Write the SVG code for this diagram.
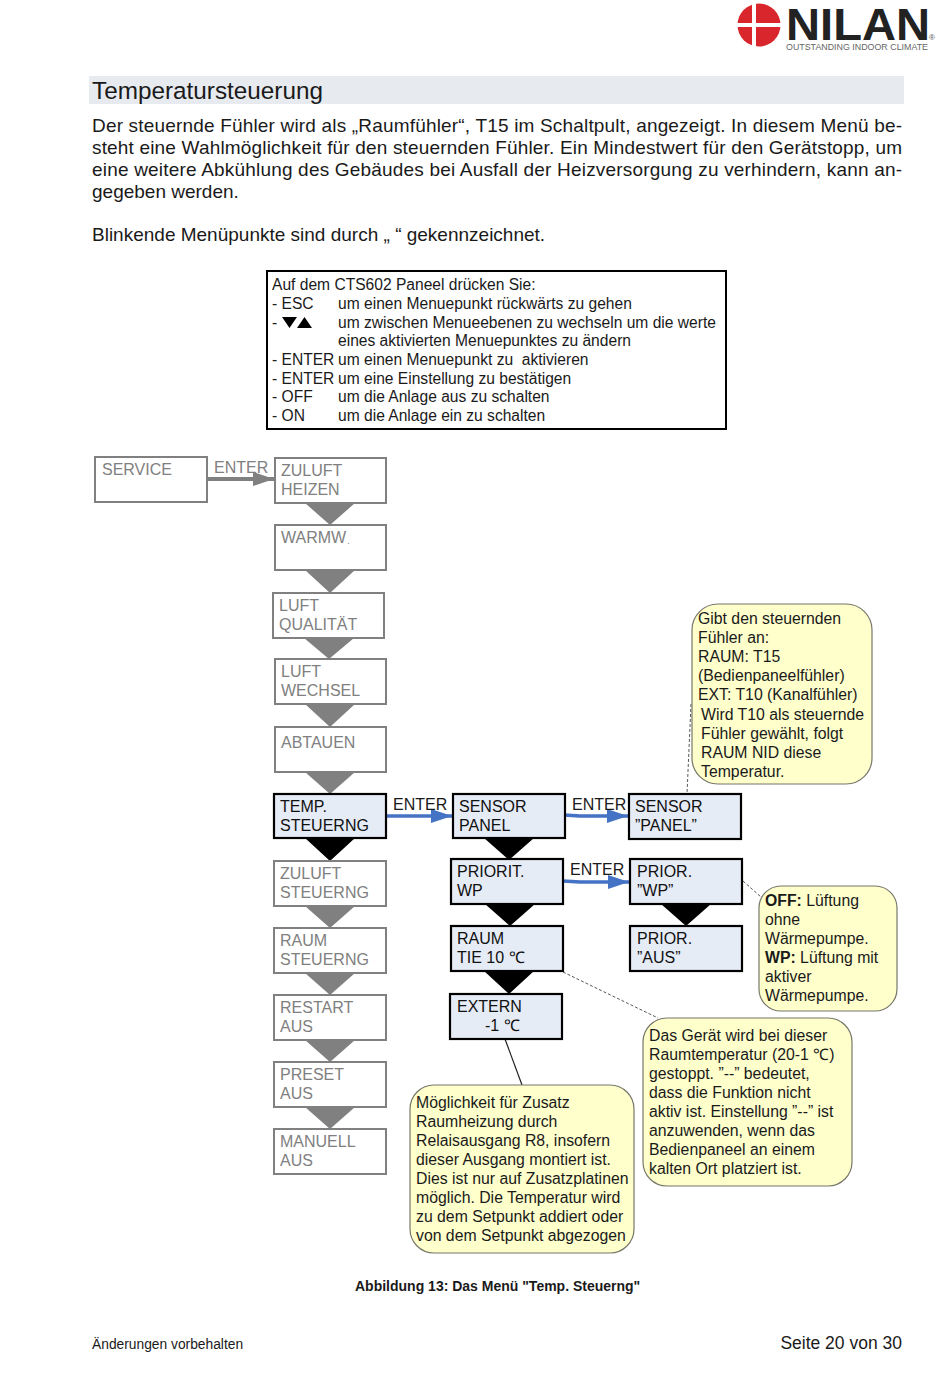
<svg xmlns="http://www.w3.org/2000/svg" width="950" height="1379" viewBox="0 0 950 1379">
<style>
text{font-family:"Liberation Sans",Arial,sans-serif;fill:#1a1a1a}
.body{font-size:19px}
.m{font-size:15.6px}
.b{font-size:16px}
.g rect{fill:#fff;stroke:#808080;stroke-width:2}
.g text{fill:#808080}
.s rect{fill:#e6ecf6;stroke:#000;stroke-width:2.2}
.s text{fill:#111}
.tg{fill:#808080}
.tk{fill:#000}
.n rect{fill:#ffffcc;stroke:#77776a;stroke-width:1.2}
.n text{font-size:15.8px}
.e{font-size:16px}
</style>
<defs>
<marker id="ab" markerWidth="22" markerHeight="14" refX="21" refY="7" orient="auto" markerUnits="userSpaceOnUse"><path d="M0 0L21 7L0 14z" fill="#4472c4"/></marker>
<marker id="ag" markerWidth="22" markerHeight="14" refX="21" refY="7" orient="auto" markerUnits="userSpaceOnUse"><path d="M0 0L21 7L0 14z" fill="#808080"/></marker>
</defs>
<g id="logo">
<circle cx="759" cy="25" r="21.500" fill="#d9262c"/>
<path d="M752 3h4v44h-4zM737 23h44v4h-44z" fill="#fff"/>
<text x="786" y="40" font-size="44" font-weight="700" textLength="144" lengthAdjust="spacingAndGlyphs" style="fill:#222">NILAN</text>
<text x="786" y="49.500" font-size="9.500" textLength="142" lengthAdjust="spacingAndGlyphs" style="fill:#666">OUTSTANDING INDOOR CLIMATE</text>
<text x="929" y="40" font-size="8" style="fill:#555">®</text>
</g>
<g id="heading">
<rect x="89" y="76" width="815" height="28" fill="#e7ebef"/>
<text x="92" y="99" font-size="24.300">Temperatursteuerung</text>
</g>
<g id="intro">
<text x="92" y="132" textLength="810" class="body">Der steuernde Fühler wird als „Raumfühler“, T15 im Schaltpult, angezeigt. In diesem Menü be-</text>
<text x="92" y="154" textLength="810" class="body">steht eine Wahlmöglichkeit für den steuernden Fühler. Ein Mindestwert für den Gerätstopp, um</text>
<text x="92" y="176" textLength="810" class="body">eine weitere Abkühlung des Gebäudes bei Ausfall der Heizversorgung zu verhindern, kann an-</text>
<text x="92" y="198" class="body">gegeben werden.</text>
<text x="92" y="241" class="body">Blinkende Menüpunkte sind durch „ “ gekennzeichnet.</text>
</g>
<g id="legend">
<rect x="267" y="271" width="459" height="158" fill="#fff" stroke="#000" stroke-width="2"/>
<text class="m" x="272" y="290">Auf dem CTS602 Paneel drücken Sie:</text>
<text class="m" x="272" y="309">- ESC</text><text class="m" x="338" y="309">um einen Menuepunkt rückwärts zu gehen</text>
<text class="m" x="272" y="328">-</text><path d="M282 317h15l-7.500 11zM297 328h15l-7.500-11z" fill="#000"/><text class="m" x="338" y="328">um zwischen Menueebenen zu wechseln um die werte</text>
<text class="m" x="338" y="346">eines aktivierten Menuepunktes zu ändern</text>
<text class="m" x="272" y="365">- ENTER</text><text class="m" x="338" y="365" xml:space="preserve">um einen Menuepunkt zu  aktivieren</text>
<text class="m" x="272" y="384">- ENTER</text><text class="m" x="338" y="384">um eine Einstellung zu bestätigen</text>
<text class="m" x="272" y="402">- OFF</text><text class="m" x="338" y="402">um die Anlage aus zu schalten</text>
<text class="m" x="272" y="421">- ON</text><text class="m" x="338" y="421">um die Anlage ein zu schalten</text>
</g>
<g id="connectors">
<path d="M691 704L687 794" fill="none" stroke="#444" stroke-width="0.900" stroke-dasharray="3 2"/>
<path d="M743 881L761 897" fill="none" stroke="#444" stroke-width="0.900" stroke-dasharray="3 2"/>
<path d="M563 972L658 1018" fill="none" stroke="#444" stroke-width="0.900" stroke-dasharray="3 2"/>
<path d="M505 1039L522 1085" fill="none" stroke="#222" stroke-width="1.200"/>
<path d="M206 479H274" stroke="#808080" stroke-width="4" fill="none" marker-end="url(#ag)"/>
<path d="M385 816H452" stroke="#4472c4" stroke-width="3.500" fill="none" marker-end="url(#ab)"/>
<path d="M564 815L580 816H628" stroke="#4472c4" stroke-width="3.500" fill="none" marker-end="url(#ab)"/>
<path d="M563 881L580 882H629" stroke="#4472c4" stroke-width="3.500" fill="none" marker-end="url(#ab)"/>
<g class="tg">
<path d="M305 503h50l-25 22zM305 570h50l-25 23zM304 638h50l-25 21zM305 704h50l-25 23zM305 772h50l-25 22zM305 906h50l-25 22zM305 973h50l-25 22zM305 1040h50l-25 22zM305 1107h50l-25 22z"/>
</g>
<g class="tk">
<path d="M305 838h50l-25 23zM484 838h50l-25 22zM485 904h50l-25 22zM484 971h50l-25 23zM661 904h50l-25 22z"/>
</g>
<text class="e" x="214" y="473" style="fill:#808080">ENTER</text>
<text class="e" x="393" y="810">ENTER</text>
<text class="e" x="572" y="810">ENTER</text>
<text class="e" x="570" y="875">ENTER</text>
</g>
<g id="service" class="g"><rect x="95" y="457" width="112" height="45"/><text class="b" x="102" y="475">SERVICE</text></g>
<g id="zuluft-heizen" class="g"><rect x="275" y="458" width="111" height="45"/><text class="b" x="281" y="476">ZULUFT</text><text class="b" x="281" y="495">HEIZEN</text></g>
<g id="warmw" class="g"><rect x="275" y="525" width="111" height="45"/><text class="b" x="281" y="543">WARMW<tspan dx="1" dy="1" font-size="9">.</tspan></text></g>
<g id="luft-qualitaet" class="g"><rect x="273" y="593" width="111" height="45"/><text class="b" x="279" y="611">LUFT</text><text class="b" x="279" y="630">QUALITÄT</text></g>
<g id="luft-wechsel" class="g"><rect x="275" y="659" width="111" height="45"/><text class="b" x="281" y="677">LUFT</text><text class="b" x="281" y="696">WECHSEL</text></g>
<g id="abtauen" class="g"><rect x="275" y="727" width="111" height="45"/><text class="b" x="281" y="748">ABTAUEN</text></g>
<g id="temp-steuerng" class="s"><rect x="274" y="794" width="112" height="44"/><text class="b" x="280" y="812">TEMP.</text><text class="b" x="280" y="831">STEUERNG</text></g>
<g id="zuluft-steuerng" class="g"><rect x="274" y="861" width="112" height="45"/><text class="b" x="280" y="879">ZULUFT</text><text class="b" x="280" y="898">STEUERNG</text></g>
<g id="raum-steuerng" class="g"><rect x="274" y="928" width="112" height="45"/><text class="b" x="280" y="946">RAUM</text><text class="b" x="280" y="965">STEUERNG</text></g>
<g id="restart-aus" class="g"><rect x="274" y="995" width="112" height="45"/><text class="b" x="280" y="1013">RESTART</text><text class="b" x="280" y="1032">AUS</text></g>
<g id="preset-aus" class="g"><rect x="274" y="1062" width="112" height="45"/><text class="b" x="280" y="1080">PRESET</text><text class="b" x="280" y="1099">AUS</text></g>
<g id="manuell-aus" class="g"><rect x="274" y="1129" width="112" height="45"/><text class="b" x="280" y="1147">MANUELL</text><text class="b" x="280" y="1166">AUS</text></g>
<g id="sensor-panel" class="s"><rect x="453" y="794" width="112" height="44"/><text class="b" x="459" y="812">SENSOR</text><text class="b" x="459" y="831">PANEL</text></g>
<g id="priorit-wp" class="s"><rect x="451" y="859" width="112" height="45"/><text class="b" x="457" y="877">PRIORIT.</text><text class="b" x="457" y="896">WP</text></g>
<g id="raum-tie" class="s"><rect x="451" y="926" width="112" height="45"/><text class="b" x="457" y="944">RAUM</text><text class="b" x="457" y="963">TIE 10 ℃</text></g>
<g id="extern" class="s"><rect x="450" y="994" width="112" height="45"/><text class="b" x="457" y="1012">EXTERN</text><text class="b" x="485" y="1031">-1 ℃</text></g>
<g id="sensor-value" class="s"><rect x="629" y="794" width="112" height="45"/><text class="b" x="635" y="812">SENSOR</text><text class="b" x="635" y="831">”PANEL”</text></g>
<g id="prior-wp" class="s"><rect x="630" y="859" width="112" height="45"/><text class="b" x="637" y="877">PRIOR.</text><text class="b" x="637" y="896">”WP”</text></g>
<g id="prior-aus" class="s"><rect x="630" y="926" width="112" height="45"/><text class="b" x="637" y="944">PRIOR.</text><text class="b" x="637" y="963">”AUS”</text></g>
<g id="note-sensor" class="n"><rect x="692" y="604" width="180" height="180" rx="26"/>
<text x="698" y="624">Gibt den steuernden</text><text x="698" y="643">Fühler an:</text><text x="698" y="662">RAUM: T15</text><text x="698" y="681">(Bedienpaneelfühler)</text><text x="698" y="700">EXT: T10 (Kanalfühler)</text><text x="701" y="720">Wird T10 als steuernde</text><text x="701" y="739">Fühler gewählt, folgt</text><text x="701" y="758">RAUM NID diese</text><text x="701" y="777">Temperatur.</text></g>
<g id="note-prior" class="n"><rect x="759" y="886" width="138" height="125" rx="22"/>
<text x="765" y="906"><tspan font-weight="700">OFF:</tspan> Lüftung</text><text x="765" y="925">ohne</text><text x="765" y="944">Wärmepumpe.</text><text x="765" y="963"><tspan font-weight="700">WP:</tspan> Lüftung mit</text><text x="765" y="982">aktiver</text><text x="765" y="1001">Wärmepumpe.</text></g>
<g id="note-raum" class="n"><rect x="643" y="1018" width="209" height="168" rx="24"/>
<text x="649" y="1041">Das Gerät wird bei dieser</text><text x="649" y="1060">Raumtemperatur (20-1 ℃)</text><text x="649" y="1079">gestoppt. ”--” bedeutet,</text><text x="649" y="1098">dass die Funktion nicht</text><text x="649" y="1117">aktiv ist. Einstellung ”--” ist</text><text x="649" y="1136">anzuwenden, wenn das</text><text x="649" y="1155">Bedienpaneel an einem</text><text x="649" y="1174">kalten Ort platziert ist.</text></g>
<g id="note-extern" class="n"><rect x="410" y="1085" width="224" height="168" rx="24"/>
<text x="416" y="1108">Möglichkeit für Zusatz</text><text x="416" y="1127">Raumheizung durch</text><text x="416" y="1146">Relaisausgang R8, insofern</text><text x="416" y="1165">dieser Ausgang montiert ist.</text><text x="416" y="1184">Dies ist nur auf Zusatzplatinen</text><text x="416" y="1203">möglich. Die Temperatur wird</text><text x="416" y="1222">zu dem Setpunkt addiert oder</text><text x="416" y="1241">von dem Setpunkt abgezogen</text></g>
<g id="footer">
<text x="355" y="1291" font-size="14" font-weight="700">Abbildung 13: Das Menü "Temp. Steuerng"</text>
<text x="92" y="1349" font-size="13.800">Änderungen vorbehalten</text>
<text x="902" y="1349" font-size="17.500" text-anchor="end">Seite 20 von 30</text>
</g>
</svg>
